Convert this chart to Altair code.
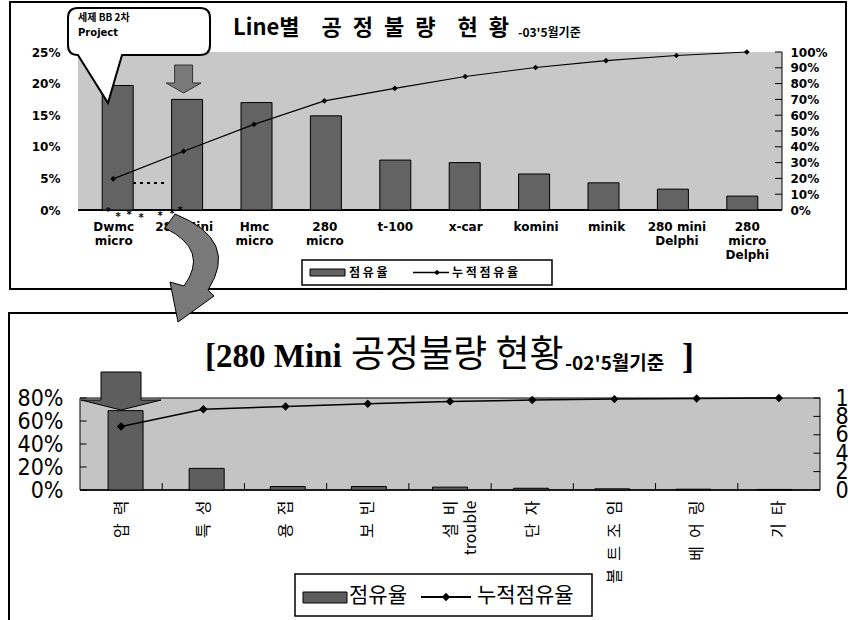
import altair as alt
import pandas as pd

KR = "Noto Sans CJK KR"
SANS = "DejaVu Sans"
NARROW = "Liberation Sans Narrow, DejaVu Sans Condensed, Arial Narrow, sans-serif"
SERIF = "Liberation Serif"
W, H = 848, 620
SP = "\u2002"

# Upper chart: defect share by production line ('03 May)
line_names = ["Dwmc\nmicro", "280 Mini", "Hmc\nmicro", "280\nmicro", "t-100",
              "x-car", "komini", "minik", "280 mini\nDelphi", "280\nmicro\nDelphi"]
line_share = [19.7, 17.5, 17.0, 14.9, 7.9, 7.5, 5.7, 4.3, 3.3, 2.2]
line_cum = [19.7, 37.2, 54.2, 69.1, 77.0, 84.5, 90.2, 94.5, 97.8, 100.0]
upper_left_ticks = [0, 5, 10, 15, 20, 25]
upper_right_ticks = [0, 10, 20, 30, 40, 50, 60, 70, 80, 90, 100]

# Lower chart: 280 Mini defect types ('02 May)
defect_names = ["압력", "특성", "용접", "보빈", "설비\ntrouble", "단자", "볼트조임", "베어링", "기타"]
defect_share = [69.0, 18.8, 3.0, 3.0, 2.5, 1.5, 1.0, 0.7, 0.5]
defect_cum = [69.0, 87.8, 90.8, 93.8, 96.3, 97.8, 98.8, 99.5, 100.0]
lower_left_ticks = [0, 20, 40, 60, 80]
lower_right_ticks = [0, 20, 40, 60, 80, 100]


def is_hangul(s):
    return all("\uac00" <= c <= "\ud7a3" for c in s)


def label_expr(names, spaced=False):
    items = []
    for name in names:
        lines = name.split("\n")
        if spaced:
            lines = [SP.join(s) if is_hangul(s) else s for s in lines]
        items.append("[" + ", ".join("'" + s + "'" for s in lines) + "]")
    return "[" + ", ".join(items) + "][datum.value]"


def scale(domain, rng):
    return alt.Scale(domain=domain, range=rng, nice=False, zero=False)


# each panel gets its own pixel window on the shared canvas
UX = scale([-0.5, 9.5], [78, 782])
UYL = scale([0, 25], [210, 52])
UYR = scale([0, 100], [210, 52])
LX = scale([-0.5, 8.5], [80, 820])
LYL = scale([0, 80], [490, 398])
LYR = scale([0, 100], [490, 398])


def xq(field, sc, axis=None):
    return alt.X(field, type="quantitative", scale=sc, axis=axis, title=None)


def yq(field, sc, axis=None):
    return alt.Y(field, type="quantitative", scale=sc, axis=axis, title=None)


def axis(orient, offset, values, expr, font, size, pad, weight="normal", **kw):
    return alt.Axis(orient=orient, offset=offset, values=values, labelExpr=expr,
                    domain=False, ticks=False, grid=False, labelFont=font,
                    labelFontSize=size, labelFontWeight=weight, labelColor="black",
                    labelPadding=pad, labelOverlap=False, labelFlush=False, **kw)


pct = "datum.value + '%'"
upper_x_axis = axis("bottom", 210 - H, list(range(len(line_names))), label_expr(line_names),
                    SANS, 12, 11, "bold", labelAngle=0, labelLineHeight=14)
upper_left_axis = axis("left", -78, upper_left_ticks, pct, SANS, 12, 18, "bold")
upper_right_axis = axis("right", 782 - W, upper_right_ticks, pct, SANS, 12, 8, "bold")
lower_x_axis = axis("bottom", 490 - H, list(range(len(defect_names))),
                    label_expr(defect_names, spaced=True), KR, 16, 10,
                    labelAngle=270, labelAlign="right", labelBaseline="middle",
                    labelLineHeight=20)
lower_left_axis = axis("left", -80, lower_left_ticks, pct, NARROW, 23, 17)
lower_right_axis = axis("right", 820 - W, lower_right_ticks, pct, NARROW, 23, 15)

one = pd.DataFrame({"k": [0]})


def px_rect(x1, y1, x2, y2, **kw):
    return alt.Chart(one).mark_rect(**kw).encode(
        x=alt.value(x1), x2=alt.value(x2), y=alt.value(y1), y2=alt.value(y2))


def px_rule(x1, y1, x2, y2, **kw):
    return alt.Chart(one).mark_rule(**kw).encode(
        x=alt.value(x1), x2=alt.value(x2), y=alt.value(y1), y2=alt.value(y2))


def px_text(text, x, y, size, font=KR, weight="normal", align="left", baseline="middle"):
    return alt.Chart(one).mark_text(text=text, font=font, fontSize=size, fontWeight=weight,
                                    align=align, baseline=baseline, color="black").encode(
        x=alt.value(x), y=alt.value(y))


def px_symbol(path, x, y, size, fill, stroke="black", sw=1.0):
    return alt.Chart(one).mark_point(shape=path, size=size, filled=True, fill=fill,
                                     stroke=stroke, strokeWidth=sw, opacity=1).encode(
        x=alt.value(x), y=alt.value(y))


def span(x0, x1, y0, y1):
    return pd.DataFrame({"x0": [x0], "x1": [x1], "y0": [y0], "y1": [y1]})


# ---------------- upper panel ----------------
upper = pd.DataFrame({"idx": list(range(len(line_names))), "share": line_share, "cum": line_cum})

u_frame = px_rect(10, 2, 846, 289, fillOpacity=0, stroke="black", strokeWidth=2)
u_bg = alt.Chart(span(-0.5, 9.5, 0, 25)).mark_rect(fill="#c8c8c8").encode(
    x=xq("x0", UX, upper_x_axis), x2="x1:Q", y=yq("y0", UYL, upper_left_axis), y2="y1:Q")
u_base = alt.Chart(span(-0.5, 9.5, 0, 0)).mark_rule(color="black", strokeWidth=2).encode(
    x=xq("x0", UX), x2="x1:Q", y=yq("y0", UYL))
u_edge = alt.Chart(span(9.5, 9.5, 0, 100)).mark_rule(color="black", strokeWidth=1).encode(
    x=xq("x0", UX), y=yq("y0", UYR), y2="y1:Q")
u_ticks = alt.Chart(pd.DataFrame({"x0": 9.4, "x1": 9.5, "v": upper_right_ticks})).mark_rule(
    color="black", strokeWidth=1).encode(x=xq("x0", UX), x2="x1:Q", y=yq("v", UYR))
u_bars = alt.Chart(upper).mark_bar(size=31, fill="#636363", stroke="black", strokeWidth=1).encode(
    x=xq("idx", UX), y=yq("share", UYL))
u_line = alt.Chart(upper).mark_line(color="black", strokeWidth=1.2).encode(
    x=xq("idx", UX), y=yq("cum", UYR, upper_right_axis))
u_pts = alt.Chart(upper).mark_point(shape="diamond", filled=True, color="black", size=32,
                                    opacity=1).encode(x=xq("idx", UX), y=yq("cum", UYR))

u_dots = px_rule(133, 183, 168, 183, color="black", strokeWidth=2, strokeDash=[3, 4])
u_stars = [px_text("*", sx, sy, 10, SANS, "bold", "center")
           for sx, sy in [(108, 212), (118, 217), (129, 215), (141, 218), (160, 216), (172, 214), (180, 211)]]

callout_path = ("M-0.86,-0.669 L0.86,-0.669 Q1,-0.669 1,-0.53 L1,-0.147 Q1,-0.007 0.86,-0.007 "
                "L-0.239,-0.007 L-0.437,0.669 L-0.86,-0.007 Q-1,-0.007 -1,-0.147 L-1,-0.53 "
                "Q-1,-0.669 -0.86,-0.669 Z")
u_callout = px_symbol(callout_path, 139, 55.5, 20164, "white", "black", 2)
u_call_t1 = px_text("세제 BB 2차", 78, 18, 10, KR, "bold")
u_call_t2 = px_text("Project", 78, 33, 10, SANS, "bold")

down_arrow = ("M-0.45,-0.7 L0.45,-0.7 L0.45,0.2 L0.875,0.2 L0,0.7 L-0.875,0.2 L-0.45,0.2 Z")
u_arrow = px_symbol(down_arrow, 183.6, 79, 1600, "#7a7a7a", "#333333", 1)

u_leg_box = px_rect(302, 260, 552, 285, fill="white", stroke="black", strokeWidth=1.5)
u_leg_sw = px_rect(310, 269, 345, 276, fill="#636363", stroke="black", strokeWidth=1)
u_leg_t1 = px_text("점 유 율", 349, 272.5, 12, KR, "bold")
u_leg_ln = px_rule(413, 272.5, 449, 272.5, color="black", strokeWidth=1.5)
u_leg_pt = alt.Chart(one).mark_point(shape="diamond", filled=True, color="black", size=32,
                                     opacity=1).encode(x=alt.value(437), y=alt.value(272.5))
u_leg_t2 = px_text("누 적 점 유 율", 452, 272.5, 12, KR, "bold")

u_title = px_text("Line별\u2003공\u2002정\u2002불\u2002량\u2003현\u2002황", 233, 28, 22, KR, "bold")
u_sub = px_text("-03'5월기준", 518, 33, 12, KR, "bold")

# ---------------- lower panel ----------------
lower = pd.DataFrame({"idx": list(range(len(defect_names))), "share": defect_share, "cum": defect_cum})

l_frame = px_rect(9, 313, 850, 650, fillOpacity=0, stroke="black", strokeWidth=2)
l_bg = alt.Chart(span(-0.5, 8.5, 0, 80)).mark_rect(fill="#c4c4c4", stroke="black",
                                                   strokeWidth=1).encode(
    x=xq("x0", LX, lower_x_axis), x2="x1:Q", y=yq("y0", LYL, lower_left_axis), y2="y1:Q")
l_base = alt.Chart(span(-0.5, 8.5, 0, 0)).mark_rule(color="black", strokeWidth=1.5).encode(
    x=xq("x0", LX), x2="x1:Q", y=yq("y0", LYL))
l_lticks = alt.Chart(pd.DataFrame({"x0": -0.5, "x1": -0.42, "v": lower_left_ticks})).mark_rule(
    color="black").encode(x=xq("x0", LX), x2="x1:Q", y=yq("v", LYL))
l_rticks = alt.Chart(pd.DataFrame({"x0": 8.42, "x1": 8.5, "v": lower_right_ticks})).mark_rule(
    color="black").encode(x=xq("x0", LX), x2="x1:Q", y=yq("v", LYR))
l_bticks = alt.Chart(pd.DataFrame({"b": [k + 0.5 for k in range(len(defect_names) - 1)],
                                   "y0": 0, "y1": 6})).mark_rule(color="black").encode(
    x=xq("b", LX), y=yq("y0", LYL), y2="y1:Q")
l_bars = alt.Chart(lower).mark_bar(size=35, fill="#5e5e5e", stroke="black", strokeWidth=1).encode(
    x=xq("idx", LX), y=yq("share", LYL))
big_arrow = "M-0.5,-0.475 L0.5,-0.475 L0.5,0.225 L1,0.225 L0,0.475 L-1,0.225 L-0.5,0.225 Z"
l_arrow = px_symbol(big_arrow, 121, 391, 6400, "#5e5e5e", "black", 1)
l_line = alt.Chart(lower).mark_line(color="black", strokeWidth=1.5).encode(
    x=xq("idx", LX), y=yq("cum", LYR, lower_right_axis))
l_pts = alt.Chart(lower).mark_point(shape="diamond", filled=True, color="black", size=70,
                                    opacity=1).encode(x=xq("idx", LX), y=yq("cum", LYR))

l_leg_box = px_rect(295, 574, 592, 616, fill="white", stroke="black", strokeWidth=1.5)
l_leg_sw = px_rect(303, 592, 347, 603, fill="#5e5e5e", stroke="black", strokeWidth=1)
l_leg_t1 = px_text("점유율", 349, 596, 21)
l_leg_ln = px_rule(421, 597, 471, 597, color="black", strokeWidth=2)
l_leg_pt = alt.Chart(one).mark_point(shape="diamond", filled=True, color="black", size=70,
                                     opacity=1).encode(x=alt.value(446), y=alt.value(597))
l_leg_t2 = px_text("누적점유율", 477, 596, 21)

l_title1 = px_text("[280 Mini", 205, 357, 33, SERIF, "bold")
l_title2 = px_text("공정불량 현황", 351, 356, 37)
l_title3 = px_text("-02'5월기준", 565, 370, 19, KR, "bold", baseline="alphabetic")
l_title4 = px_text("]", 682, 357, 36, SERIF, "bold")

# curved arrow leading from the upper chart into the lower one
curve_path = ("M-0.3,-1.08 Q1.0,-0.56 0.36,0.44 L0.48,0.56 L-0.24,1.08 L-0.4,0.28 "
              "L-0.12,0.36 Q0.4,-0.36 -0.5,-0.8 Z")
curve = px_symbol(curve_path, 190, 268, 10000, "#7a7a7a", "black", 1)

layers = [
    u_frame, u_bg, u_base, u_edge, u_ticks, u_bars, u_dots, *u_stars, u_line, u_pts,
    u_callout, u_call_t1, u_call_t2, u_arrow,
    u_leg_box, u_leg_sw, u_leg_t1, u_leg_ln, u_leg_pt, u_leg_t2, u_title, u_sub,
    l_frame, l_bg, l_base, l_lticks, l_rticks, l_bticks, l_bars, l_arrow, l_line, l_pts,
    l_leg_box, l_leg_sw, l_leg_t1, l_leg_ln, l_leg_pt, l_leg_t2,
    l_title1, l_title2, l_title3, l_title4,
    curve,
]

chart = alt.layer(*layers).resolve_scale(x="independent", y="independent").properties(
    width=W, height=H, padding=0, background="white",
    autosize=alt.AutoSizeParams(type="none"),
).configure_view(strokeWidth=0)

chart.save("out.html", embed_options={"renderer": "svg", "actions": False})
